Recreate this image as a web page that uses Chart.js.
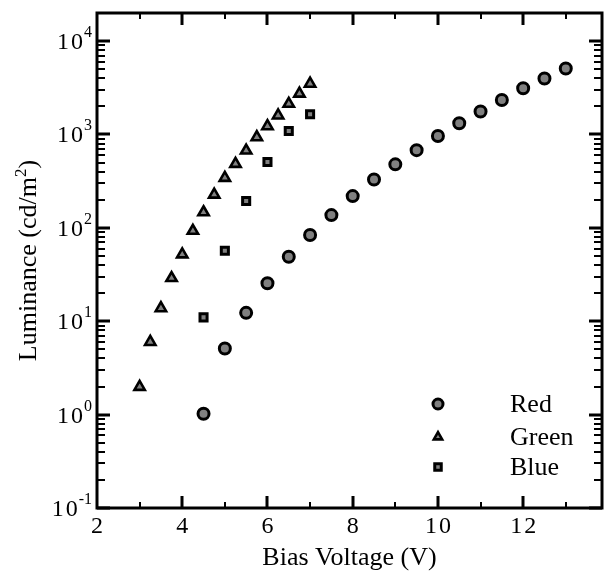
<!DOCTYPE html>
<html>
<head>
<meta charset="utf-8">
<script src="https://cdn.jsdelivr.net/npm/chart.js@4.4.0/dist/chart.umd.min.js"></script>
<style>
  html, body { margin: 0; padding: 0; background: #fff; }
</style>
</head>
<body>
<canvas id="chart" width="613" height="578"></canvas>
<script>
// data
const redV = [4.5, 5, 5.5, 6, 6.5, 7, 7.5, 8, 8.5, 9, 9.5, 10, 10.5, 11, 11.5, 12, 12.5, 13];
const redL = [1.02, 5.1, 12.3, 25.5, 49, 84, 137, 219, 330, 479, 680, 964, 1318, 1762, 2344, 3133, 3981, 5093];
const greenV = [3, 3.25, 3.5, 3.75, 4, 4.25, 4.5, 4.75, 5, 5.25, 5.5, 5.75, 6, 6.25, 6.5, 6.75, 7];
const greenL = [1.98, 6.0, 13.8, 29, 52, 93, 147, 227, 343, 484, 673, 935, 1227, 1600, 2130, 2740, 3500];
const blueV = [4.5, 5, 5.5, 6, 6.5, 7];
const blueL = [11.0, 57, 194, 507, 1091, 1648];

const xTicks = [2, 4, 6, 8, 10, 12];
const yExps = [-1, 0, 1, 2, 3, 4];

const serif = '"Liberation Serif", "Times New Roman", serif';
const pts = (xs, ys) => xs.map((v, i) => ({x: v, y: ys[i]}));

const axesPlugin = {
    id: 'axesPlugin',
    afterDraw(chart) {
        const ctx = chart.ctx;
        const a = chart.chartArea;
        const x = chart.scales.x;
        const y = chart.scales.y;
        ctx.save();
        ctx.strokeStyle = '#000';
        ctx.lineCap = 'butt';

        // x ticks, inward on bottom and top
        for (let v = 3; v <= 13; v++) {
            const px = Math.round(x.getPixelForValue(v));
            const major = v % 2 === 0;
            const len = major ? 12 : 6;
            ctx.lineWidth = major ? 3 : 2;
            ctx.beginPath();
            ctx.moveTo(px, a.bottom); ctx.lineTo(px, a.bottom - len);
            ctx.moveTo(px, a.top); ctx.lineTo(px, a.top + len);
            ctx.stroke();
        }
        // y ticks, inward on left and right
        for (const e of yExps) {
            for (let m = 1; m <= 9; m++) {
                const v = m * Math.pow(10, e);
                if (v > y.max) break;
                const py = Math.round(y.getPixelForValue(v));
                const major = m === 1;
                const len = major ? 13 : 8;
                ctx.lineWidth = major ? 3 : 2;
                ctx.beginPath();
                ctx.moveTo(a.left, py); ctx.lineTo(a.left + len, py);
                ctx.moveTo(a.right, py); ctx.lineTo(a.right - len, py);
                ctx.stroke();
            }
        }
        // frame
        ctx.lineWidth = 3;
        ctx.strokeRect(a.left, a.top, a.right - a.left, a.bottom - a.top);

        ctx.fillStyle = '#000';
        ctx.letterSpacing = '2px';
        // x tick labels
        ctx.font = '24px ' + serif;
        ctx.textAlign = 'center';
        ctx.textBaseline = 'alphabetic';
        for (const v of xTicks) {
            ctx.fillText(String(v), x.getPixelForValue(v) + 1, a.bottom + 25);
        }
        // y tick labels 10^n
        for (const e of yExps) {
            const py = y.getPixelForValue(Math.pow(10, e));
            ctx.letterSpacing = '0px';
            ctx.font = '16px ' + serif;
            ctx.textAlign = 'right';
            const expTxt = e < 0 ? '-' + Math.abs(e) : String(e);
            const ew = ctx.measureText(expTxt).width;
            ctx.fillText(expTxt, a.left - 5, py - 4);
            ctx.letterSpacing = '2px';
            ctx.font = '24px ' + serif;
            ctx.fillText('10', a.left - 4 - ew, py + 8);
        }
        ctx.letterSpacing = '0px';

        // axis titles
        ctx.font = '26px ' + serif;
        ctx.textAlign = 'center';
        ctx.fillText('Bias Voltage (V)', (a.left + a.right) / 2, 565);

        ctx.save();
        ctx.translate(36, (a.top + a.bottom) / 2);
        ctx.rotate(-Math.PI / 2);
        const main = 'Luminance (cd/m';
        ctx.font = '26px ' + serif;
        const w1 = ctx.measureText(main).width;
        const w3 = ctx.measureText(')').width;
        ctx.font = '17px ' + serif;
        const w2 = ctx.measureText('2').width;
        let sx = -(w1 + w2 + w3) / 2;
        ctx.textAlign = 'left';
        ctx.font = '26px ' + serif;
        ctx.fillText(main, sx, 0);
        ctx.font = '17px ' + serif;
        ctx.fillText('2', sx + w1, -10);
        ctx.font = '26px ' + serif;
        ctx.fillText(')', sx + w1 + w2, 0);
        ctx.restore();

        // legend
        const rows = [[404, 0], [437, 1], [467, 2]];
        const sizes = [5, 4.8, 4.6];
        for (const [ly, i] of rows) {
            const ds = chart.data.datasets[i];
            ctx.fillStyle = ds.backgroundColor;
            ctx.strokeStyle = ds.borderColor;
            ctx.lineWidth = ds.borderWidth;
            Chart.helpers.drawPoint(ctx, {
                pointStyle: ds.pointStyle, radius: sizes[i], rotation: 0, borderWidth: ds.borderWidth
            }, 438, ly);
            ctx.fillStyle = '#000';
            ctx.font = '26px ' + serif;
            ctx.textAlign = 'left';
            ctx.textBaseline = 'middle';
            ctx.fillText(ds.label, 510, ly + 1);
        }
        ctx.restore();
    }
};

new Chart(document.getElementById('chart'), {
    type: 'scatter',
    data: {
        datasets: [
            {
                label: 'Red',
                data: pts(redV, redL),
                pointStyle: 'circle',
                pointRadius: 5.5,
                backgroundColor: '#808080',
                borderColor: '#000',
                borderWidth: 3
            },
            {
                label: 'Green',
                data: pts(greenV, greenL),
                pointStyle: 'triangle',
                pointRadius: 6,
                backgroundColor: '#808080',
                borderColor: '#000',
                borderWidth: 2.6
            },
            {
                label: 'Blue',
                data: pts(blueV, blueL),
                pointStyle: 'rect',
                pointRadius: 5,
                backgroundColor: '#808080',
                borderColor: '#000',
                borderWidth: 3
            }
        ]
    },
    options: {
        responsive: false,
        animation: false,
        layout: {padding: {left: 97, top: 13, right: 11, bottom: 70}},
        plugins: {
            legend: {display: false},
            tooltip: {enabled: false}
        },
        scales: {
            x: {type: 'linear', min: 2, max: 13.85, display: false},
            y: {type: 'logarithmic', min: 0.1, max: 20000, display: false}
        }
    },
    plugins: [axesPlugin]
});
</script>
</body>
</html>
